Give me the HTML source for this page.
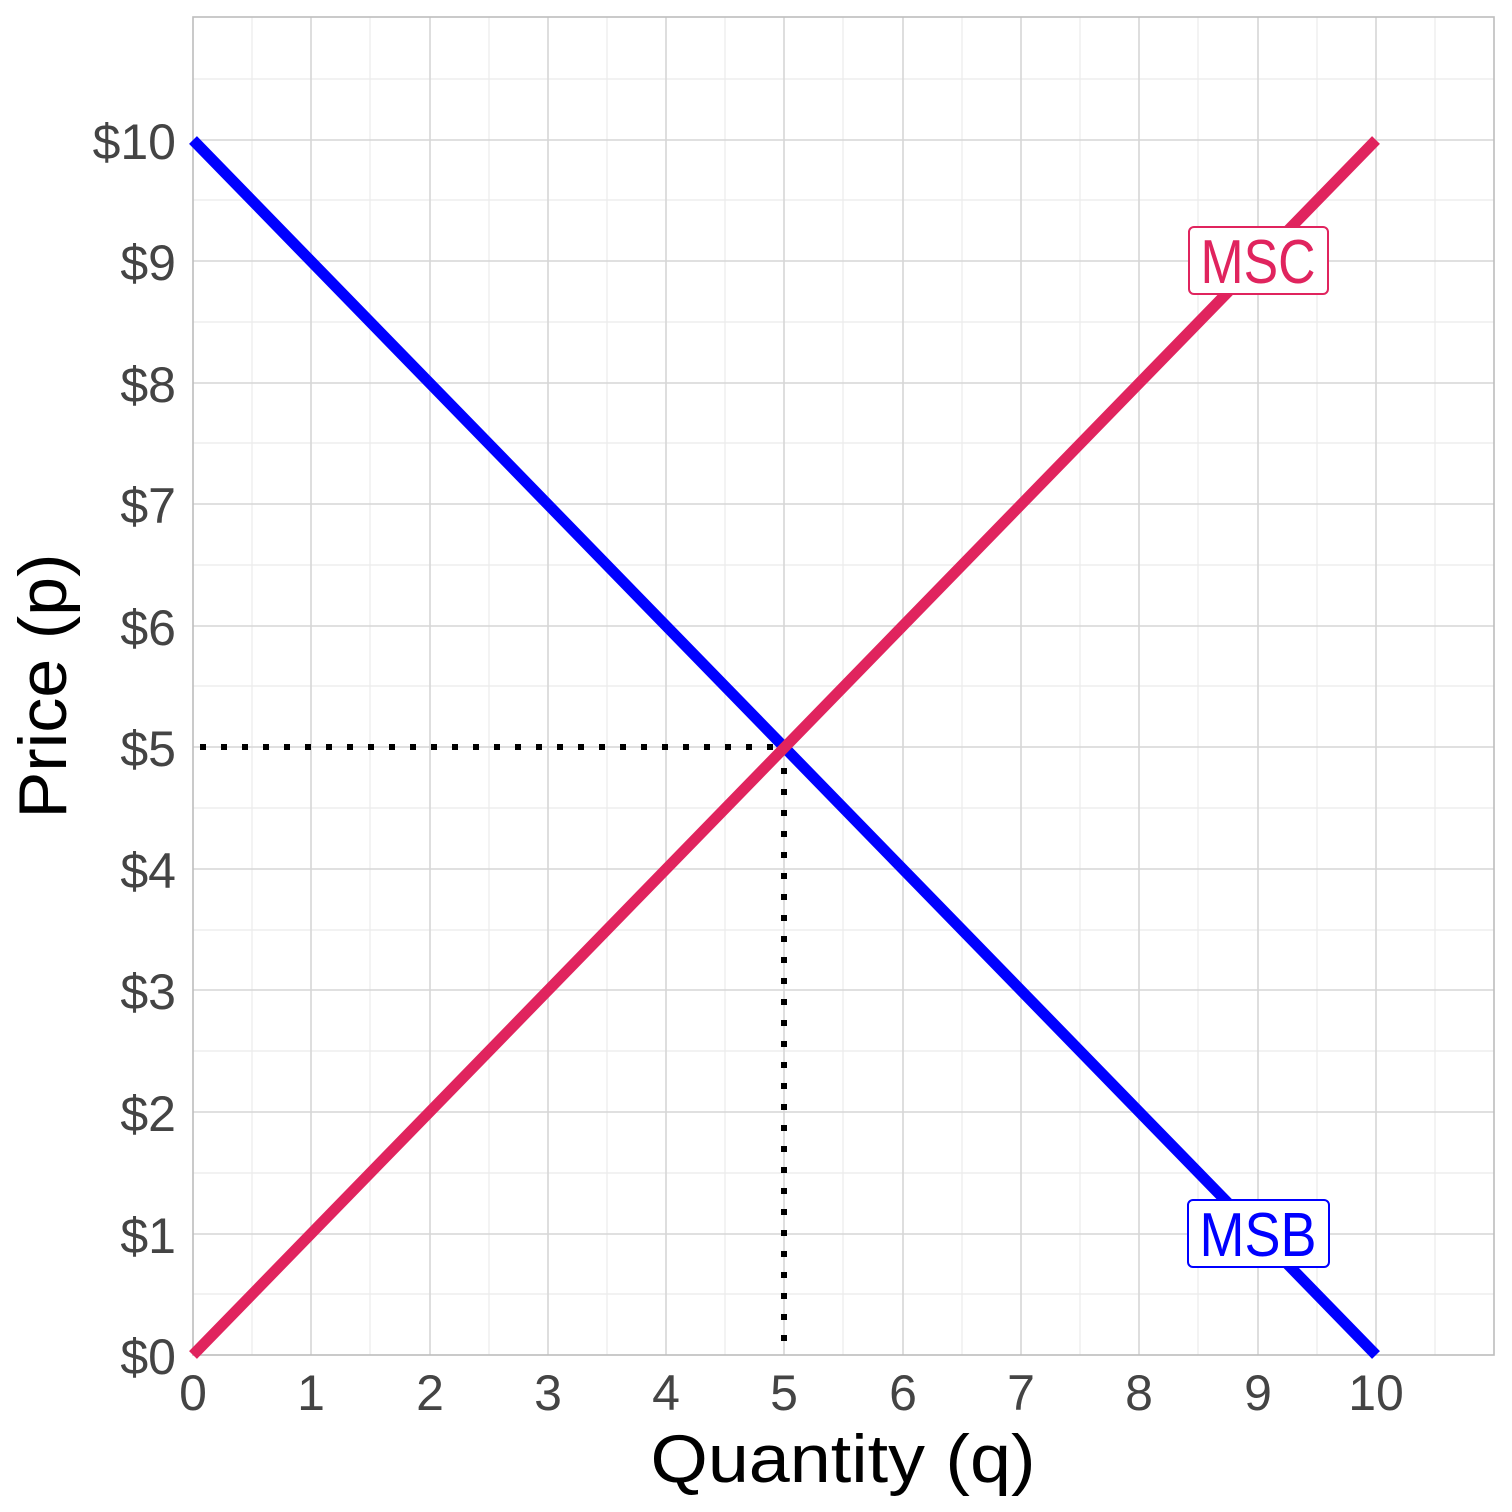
<!DOCTYPE html>
<html><head><style>body{margin:0;background:#fff}svg{display:block}</style></head><body>
<svg width="1512" height="1512" xmlns="http://www.w3.org/2000/svg" font-family="Liberation Sans, sans-serif">
<rect width="1512" height="1512" fill="#fff"/>
<g stroke="#ebebeb" stroke-width="1.2">
<line x1="252" y1="17" x2="252" y2="1355"/><line x1="370" y1="17" x2="370" y2="1355"/><line x1="489" y1="17" x2="489" y2="1355"/><line x1="607" y1="17" x2="607" y2="1355"/><line x1="725" y1="17" x2="725" y2="1355"/><line x1="843" y1="17" x2="843" y2="1355"/><line x1="962" y1="17" x2="962" y2="1355"/><line x1="1080" y1="17" x2="1080" y2="1355"/><line x1="1198" y1="17" x2="1198" y2="1355"/><line x1="1317" y1="17" x2="1317" y2="1355"/><line x1="1435" y1="17" x2="1435" y2="1355"/>
<line x1="193" y1="1294" x2="1494" y2="1294"/><line x1="193" y1="1173" x2="1494" y2="1173"/><line x1="193" y1="1051" x2="1494" y2="1051"/><line x1="193" y1="930" x2="1494" y2="930"/><line x1="193" y1="808" x2="1494" y2="808"/><line x1="193" y1="686" x2="1494" y2="686"/><line x1="193" y1="565" x2="1494" y2="565"/><line x1="193" y1="443" x2="1494" y2="443"/><line x1="193" y1="322" x2="1494" y2="322"/><line x1="193" y1="200" x2="1494" y2="200"/><line x1="193" y1="79" x2="1494" y2="79"/>
</g>
<g stroke="#d6d6d6" stroke-width="1.6">
<line x1="311" y1="17" x2="311" y2="1355"/><line x1="430" y1="17" x2="430" y2="1355"/><line x1="548" y1="17" x2="548" y2="1355"/><line x1="666" y1="17" x2="666" y2="1355"/><line x1="784" y1="17" x2="784" y2="1355"/><line x1="903" y1="17" x2="903" y2="1355"/><line x1="1021" y1="17" x2="1021" y2="1355"/><line x1="1139" y1="17" x2="1139" y2="1355"/><line x1="1258" y1="17" x2="1258" y2="1355"/><line x1="1376" y1="17" x2="1376" y2="1355"/>
<line x1="193" y1="1234" x2="1494" y2="1234"/><line x1="193" y1="1112" x2="1494" y2="1112"/><line x1="193" y1="990" x2="1494" y2="990"/><line x1="193" y1="869" x2="1494" y2="869"/><line x1="193" y1="747" x2="1494" y2="747"/><line x1="193" y1="626" x2="1494" y2="626"/><line x1="193" y1="504" x2="1494" y2="504"/><line x1="193" y1="383" x2="1494" y2="383"/><line x1="193" y1="261" x2="1494" y2="261"/><line x1="193" y1="140" x2="1494" y2="140"/>
</g>
<rect x="193" y="17" width="1301" height="1338" fill="none" stroke="#bdbdbd" stroke-width="1.6"/>
<g stroke="#000" stroke-width="6" stroke-dasharray="6,15">
<line x1="200" y1="747" x2="784" y2="747"/><line x1="784" y1="747" x2="784" y2="1355"/>
</g>
<line x1="193" y1="140" x2="1376" y2="1355" stroke="#0000ff" stroke-width="11"/>
<line x1="193" y1="1355" x2="1376" y2="140" stroke="#e0245e" stroke-width="11"/>
<rect x="1189" y="227" width="139" height="67" rx="5" fill="#fff" stroke="#e0245e" stroke-width="2"/>
<text x="1258" y="283" font-size="62" fill="#e0245e" text-anchor="middle" textLength="115" lengthAdjust="spacingAndGlyphs">MSC</text>
<rect x="1188" y="1200" width="141" height="67" rx="5" fill="#fff" stroke="#0000ff" stroke-width="2"/>
<text x="1258" y="1256" font-size="62" fill="#0000ff" text-anchor="middle" textLength="117" lengthAdjust="spacingAndGlyphs">MSB</text>
<g font-size="50" fill="#444" text-anchor="end">
<text x="176" y="1374">$0</text><text x="176" y="1253">$1</text><text x="176" y="1131">$2</text><text x="176" y="1009">$3</text><text x="176" y="888">$4</text><text x="176" y="766">$5</text><text x="176" y="645">$6</text><text x="176" y="523">$7</text><text x="176" y="402">$8</text><text x="176" y="280">$9</text><text x="176" y="159">$10</text>
</g>
<g font-size="50" fill="#444" text-anchor="middle">
<text x="193" y="1410">0</text><text x="311" y="1410">1</text><text x="430" y="1410">2</text><text x="548" y="1410">3</text><text x="666" y="1410">4</text><text x="784" y="1410">5</text><text x="903" y="1410">6</text><text x="1021" y="1410">7</text><text x="1139" y="1410">8</text><text x="1258" y="1410">9</text><text x="1376" y="1410">10</text>
</g>
<text x="843" y="1482" font-size="68" fill="#000" text-anchor="middle" textLength="385" lengthAdjust="spacingAndGlyphs">Quantity (q)</text>
<text transform="translate(66,686) rotate(-90)" font-size="68" fill="#000" text-anchor="middle" textLength="265" lengthAdjust="spacingAndGlyphs">Price (p)</text>
</svg>
</body></html>
